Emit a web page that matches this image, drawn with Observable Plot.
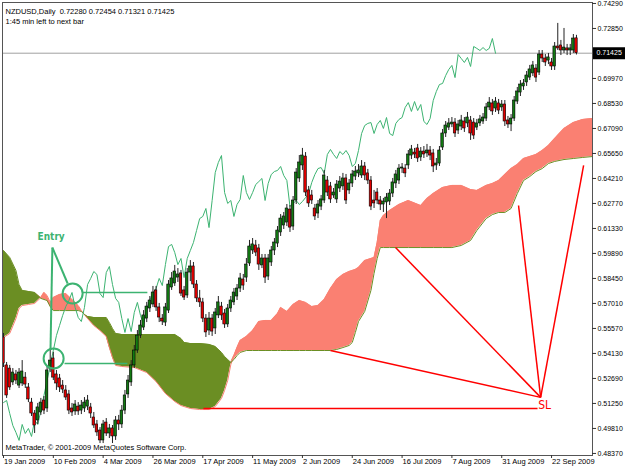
<!DOCTYPE html>
<html><head><meta charset="utf-8">
<script src="https://cdn.jsdelivr.net/npm/d3@7"></script>
<script src="https://cdn.jsdelivr.net/npm/@observablehq/plot@0.6"></script>
<style>body{margin:0;background:#fff}</style>
</head><body><div id="chart"></div>
<script>
// Daily NZDUSD bars, 19 Jan 2009 .. 2 Oct 2009 (bar index = trading day)
const open = [
.5505,.5344,.5326,.5246,.5292,.5228,.5240,.5274,.5217,.5130,
.5067,.5027,.5073,.5142,.5096,.5326,.5384,.5292,.5269,.5228,
.5200,.5177,.5096,.5079,.5107,.5084,.5096,.5107,.5102,.5044,
.5004,.4969,.4912,.5015,.4952,.4981,.4935,.5027,.5004,.5084,
.5177,.5246,.5344,.5430,.5516,.5562,.5614,.5672,.5695,.5776,
.5678,.5614,.5591,.5660,.5793,.5816,.5850,.5874,.5776,.5747,
.5879,.5914,.5810,.5730,.5707,.5614,.5545,.5614,.5557,.5632,
.5683,.5643,.5580,.5672,.5707,.5741,.5787,.5839,.5850,.5931,
.6006,.6035,.6018,.5920,.5960,.5856,.5937,.6006,.6046,.6110,
.6150,.6167,.6242,.6144,.6294,.6421,.6496,.6547,.6352,.6323,
.6248,.6219,.6259,.6294,.6409,.6375,.6323,.6300,.6363,.6375,
.6421,.6352,.6392,.6432,.6450,.6438,.6490,.6450,.6409,.6294,
.6340,.6294,.6271,.6283,.6288,.6334,.6392,.6409,.6478,.6478,
.6496,.6553,.6570,.6594,.6542,.6576,.6565,.6582,.6565,.6496,
.6507,.6599,.6680,.6714,.6732,.6743,.6697,.6720,.6749,.6738,
.6755,.6743,.6714,.6738,.6749,.6766,.6830,.6853,.6824,.6853,
.6830,.6847,.6755,.6732,.6766,.6864,.6916,.6951,.6974,.7002,
.7026,.7054,.7031,.7135,.7112,.7100,.7089,.7066,.7181,.7187,
.7158,.7170,.7158,.7158,.72280];
const high = [
.5528,.5361,.5344,.5326,.5315,.5326,.5372,.5303,.5240,.5154,
.5084,.5125,.5154,.5165,.5338,.5442,.5419,.5315,.5292,.5257,
.5228,.5200,.5125,.5142,.5130,.5142,.5159,.5171,.5125,.5073,
.5027,.4986,.5027,.5038,.5004,.4998,.5050,.5056,.5113,.5200,
.5286,.5372,.5459,.5545,.5603,.5660,.5707,.5741,.5799,.5799,
.5701,.5637,.5701,.5833,.5879,.5920,.5902,.5891,.5799,.5902,
.5948,.5937,.5833,.5776,.5730,.5637,.5649,.5637,.5672,.5741,
.5707,.5666,.5695,.5741,.5787,.5810,.5874,.5868,.5960,.6064,
.6075,.6064,.6041,.5983,.5983,.5983,.6029,.6075,.6144,.6213,
.6225,.6271,.6265,.6317,.6478,.6553,.6594,.6570,.6375,.6352,
.6271,.6294,.6323,.6467,.6432,.6398,.6363,.6409,.6432,.6450,
.6444,.6415,.6467,.6490,.6501,.6524,.6513,.6473,.6432,.6352,
.6363,.6317,.6306,.6334,.6357,.6421,.6467,.6501,.6507,.6501,
.6582,.6611,.6594,.6617,.6599,.6605,.6617,.6605,.6588,.6536,
.6605,.6703,.6749,.6766,.6772,.6766,.6755,.6784,.6772,.6801,
.6778,.6766,.6761,.6784,.6795,.6853,.6887,.6876,.6887,.6876,
.6870,.6870,.6778,.6789,.6893,.6945,.6985,.6991,.7037,.7072,
.7095,.7077,.7158,.7158,.7135,.7141,.7112,.7204,.7314,.7216,
.7285,.7193,.7193,.7250,.72454];
const low = [
.5332,.5154,.5200,.5228,.5234,.5211,.5223,.5211,.5130,.5050,
.4952,.5004,.5056,.5061,.5073,.5303,.5257,.5200,.5188,.5182,
.5142,.5061,.5050,.5056,.5056,.5061,.5073,.5084,.5038,.4981,
.4935,.4894,.4894,.4935,.4923,.4894,.4912,.4969,.4981,.5061,
.5154,.5223,.5326,.5413,.5499,.5545,.5591,.5649,.5678,.5655,
.5591,.5574,.5568,.5643,.5776,.5799,.5822,.5741,.5718,.5730,
.5827,.5787,.5707,.5678,.5591,.5505,.5516,.5511,.5522,.5614,
.5603,.5557,.5562,.5649,.5689,.5718,.5764,.5776,.5822,.5914,
.5983,.5971,.5891,.5902,.5816,.5833,.5914,.5977,.6023,.6087,
.6127,.6144,.6110,.6121,.6271,.6398,.6467,.6317,.6254,.6271,
.6179,.6190,.6236,.6277,.6317,.6277,.6306,.6277,.6340,.6352,
.6271,.6329,.6369,.6409,.6426,.6421,.6409,.6386,.6236,.6248,
.6271,.6236,.6225,.6190,.6265,.6311,.6363,.6386,.6450,.6426,
.6473,.6530,.6536,.6513,.6519,.6536,.6542,.6524,.6455,.6467,
.6490,.6582,.6657,.6697,.6714,.6657,.6674,.6697,.6686,.6714,
.6640,.6645,.6697,.6720,.6732,.6749,.6812,.6784,.6801,.6789,
.6807,.6720,.6709,.6691,.6749,.6847,.6893,.6928,.6951,.6985,
.7008,.6974,.7014,.7089,.7066,.7077,.7043,.7043,.7158,.7129,
.7141,.7129,.7129,.7141,.71321];
const close = [
.5355,.5171,.5217,.5303,.5257,.5303,.5309,.5234,.5148,.5067,
.4998,.5102,.5130,.5084,.5315,.5372,.5274,.5240,.5217,.5205,
.5159,.5084,.5073,.5119,.5079,.5113,.5130,.5142,.5067,.4998,
.4958,.4912,.5004,.4952,.4981,.4935,.5027,.5004,.5084,.5171,
.5257,.5344,.5430,.5516,.5574,.5632,.5683,.5718,.5764,.5678,
.5620,.5597,.5678,.5810,.5845,.5885,.5868,.5758,.5735,.5879,
.5914,.5810,.5730,.5707,.5614,.5534,.5614,.5539,.5649,.5707,
.5632,.5580,.5672,.5718,.5764,.5787,.5845,.5804,.5925,.6029,
.6041,.5994,.5925,.5960,.5850,.5960,.6006,.6052,.6121,.6190,
.6202,.6248,.6138,.6294,.6455,.6513,.6553,.6340,.6277,.6294,
.6202,.6271,.6300,.6438,.6340,.6300,.6340,.6386,.6403,.6421,
.6294,.6392,.6444,.6461,.6467,.6490,.6438,.6409,.6259,.6277,
.6294,.6271,.6288,.6311,.6334,.6398,.6444,.6478,.6484,.6450,
.6559,.6588,.6559,.6536,.6576,.6559,.6582,.6553,.6490,.6507,
.6582,.6680,.6726,.6738,.6743,.6680,.6732,.6755,.6709,.6772,
.6680,.6668,.6738,.6761,.6772,.6830,.6858,.6807,.6864,.6812,
.6847,.6749,.6732,.6766,.6870,.6922,.6962,.6968,.7014,.7049,
.7072,.7002,.7135,.7112,.7089,.7118,.7066,.7181,.7170,.7158,
.7175,.7158,.7170,.7227,.71425];

// Ichimoku cloud (Senkou Span A / B), read at these bar positions
const cloudIdx = [0,2,4,5,6,8,10,12,13,14,15,16,18,20,22,24,25,26,27,29,31,33,34,35,36,38,42,46,49,52,55,57,58,60,63,66,68,70,71,72,73,74,75,76,78,80,82,84,86,88,89,91,93,95,97,99,101,103,105,107,109,111,112,113,114,116,118,119,120,121,122,124,127,130,134,136,138,141,144,147,150,152,155,157,159,161,163,165,167,169,171,173,175,177,180,183,186,189,190];
const spanA = [.5505,.5528,.5614,.5672,.5689,.5695,.5701,.5735,.5764,.5747,.5707,.5735,.5753,.5758,.5724,.5689,.5660,.5637,.5614,.5574,.5545,.5511,.5447,.5390,.5344,.5338,.5332,.5303,.5251,.5182,.5136,.5113,.5107,.5096,.5090,.5090,.5107,.5154,.5200,.5257,.5349,.5401,.5447,.5488,.5511,.5545,.5597,.5603,.5603,.5643,.5678,.5655,.5695,.5718,.5707,.5683,.5689,.5724,.5787,.5839,.5868,.5885,.5891,.5897,.5908,.5948,.5960,.5966,.6052,.6179,.6208,.6236,.6271,.6294,.6265,.6306,.6334,.6369,.6381,.6381,.6357,.6352,.6381,.6392,.6409,.6444,.6478,.6501,.6536,.6547,.6559,.6582,.6611,.6651,.6709,.6743,.6761,.6766,.6766];
const spanB = [.6006,.5966,.5891,.5810,.5776,.5770,.5764,.5730,.5724,.5718,.5683,.5660,.5660,.5660,.5660,.5660,.5655,.5637,.5626,.5620,.5620,.5620,.5591,.5557,.5528,.5522,.5522,.5522,.5522,.5522,.5522,.5499,.5476,.5470,.5470,.5465,.5453,.5419,.5395,.5378,.5361,.5378,.5401,.5419,.5430,.5430,.5430,.5430,.5430,.5430,.5430,.5430,.5430,.5430,.5430,.5430,.5430,.5430,.5430,.5436,.5447,.5459,.5476,.5534,.5597,.5655,.5776,.5874,.5960,.6023,.6023,.6023,.6023,.6023,.6023,.6023,.6023,.6023,.6023,.6035,.6064,.6121,.6190,.6213,.6225,.6225,.6248,.6334,.6409,.6432,.6461,.6478,.6507,.6519,.6530,.6536,.6542,.6547,.6547];

const dateTicks = [0,16,32,48,64,80,96,112,128,144,160,176];
const dateLabels = ["19 Jan 2009","10 Feb 2009","4 Mar 2009","26 Mar 2009","17 Apr 2009","11 May 2009","2 Jun 2009","24 Jun 2009","16 Jul 2009","7 Aug 2009","31 Aug 2009","22 Sep 2009"];
const priceTicks = [0.48370,0.49810,0.51250,0.52690,0.54130,0.55570,0.57010,0.58450,0.59890,0.61330,0.62770,0.64210,0.65650,0.67090,0.68530,0.69970,0.72850,0.74290];
const lastPrice = 0.71425;
const headerLines = ["NZDUSD,Daily  0.72280 0.72454 0.71321 0.71425", "1:45 min left to next bar"];
const copyright = "MetaTrader, \u00A9 2001-2009 MetaQuotes Software Corp.";

// Annotations (bar index, price)
const entryLabel = {i: 15.3, p: 0.6087, text: "Entry"};
const entryApex = {i: 15.7, p: 0.6023};
const entryTargets = [{i: 20.6, p: 0.5816}, {i: 15.1, p: 0.5442}];
const entryCircles = [{i: 22.2, p: 0.5758}, {i: 16.1, p: 0.5384}];
const entryLevels = [{i1: 25.4, i2: 46.2, p: 0.5764}, {i1: 19.6, i2: 39.8, p: 0.5355}];
const slApex = {i: 172.5, p: 0.5160};
const slTargets = [{i: 105.0, p: 0.5430}, {i: 125.9, p: 0.6023}, {i: 165.4, p: 0.6265}, {i: 186.3, p: 0.6496}];
const slLevel = {i1: 64.2, i2: 171.5, p: 0.5096};
const slLabel = {i: 173.8, p: 0.5113, text: "SL"};

const bars = open.map((o, i) => ({i, o, h: high[i], l: low[i], c: close[i]}));
const chikou = bars.map(d => ({i: d.i - 26, c: d.c}));
const cloud = cloudIdx.map((i, k) => ({i, a: spanA[k], b: spanB[k], top: Math.max(spanA[k], spanB[k])}));

const xMin = -0.32, xMax = 189.15;
const yMin = 0.48252, yMax = 0.74345;
const green = "#3cb371";
const smallFont = "Tahoma, 'DejaVu Sans Condensed', 'Liberation Sans', sans-serif";

const chart = Plot.plot({
  width: 625, height: 469,
  marginTop: 2, marginBottom: 14, marginLeft: 2, marginRight: 33,
  style: {fontFamily: "'Liberation Sans', Arial, sans-serif", fontSize: "7.5px", background: "#fff", color: "#000"},
  x: {domain: [xMin, xMax], axis: null},
  y: {domain: [yMin, yMax], axis: null},
  marks: [
    Plot.areaY(cloud, {x: "i", y1: "a", y2: "top", fill: "#6b8e23", clip: true}),
    Plot.areaY(cloud, {x: "i", y1: "b", y2: "top", fill: "#fa8072", clip: true}),
    Plot.line(cloud, {x: "i", y: "a", stroke: "#fa8072", strokeWidth: 1, clip: true}),
    Plot.line(cloud, {x: "i", y: "b", stroke: "#6b8e23", strokeWidth: 1, clip: true}),
    Plot.ruleY([lastPrice], {stroke: "#a0a0a0", strokeWidth: 1}),
    Plot.line(chikou, {x: "i", y: "c", stroke: green, strokeWidth: 1, clip: true}),
    Plot.ruleX(bars, {x: "i", y1: "l", y2: "h", stroke: "#222", strokeWidth: 1, clip: true}),
    Plot.rect(bars, {x1: d => d.i - 0.4, x2: d => d.i + 0.4, y1: "o", y2: "c",
      fill: d => d.c >= d.o ? "#127a12" : "#e00000", stroke: "#000", strokeWidth: 0.6, clip: true}),
    // Entry annotation
    Plot.link(entryTargets, {x1: () => entryApex.i, y1: () => entryApex.p, x2: "i", y2: "p", stroke: green, strokeWidth: 2}),
    Plot.dot(entryCircles, {x: "i", y: "p", r: 10, stroke: green, strokeWidth: 2, fill: "none"}),
    Plot.link(entryLevels, {x1: "i1", x2: "i2", y1: "p", y2: "p", stroke: green, strokeWidth: 1.5}),
    Plot.text([entryLabel], {x: "i", y: "p", text: "text", fill: green, fontSize: 10, fontWeight: "bold",
      fontFamily: "'DejaVu Sans Condensed', 'DejaVu Sans', sans-serif"}),
    // SL annotation
    Plot.link(slTargets, {x1: () => slApex.i, y1: () => slApex.p, x2: "i", y2: "p", stroke: "#ff0000", strokeWidth: 1.5}),
    Plot.link([slLevel], {x1: "i1", x2: "i2", y1: "p", y2: "p", stroke: "#ff0000", strokeWidth: 1.5}),
    Plot.text([slLabel], {x: "i", y: "p", text: "text", fill: "#ff0000", fontSize: 12,
      fontFamily: "'DejaVu Sans Condensed', 'DejaVu Sans', sans-serif"}),
    Plot.frame({stroke: "#555"}),
    // price axis (right)
    Plot.ruleY(priceTicks, {x1: xMax, x2: xMax + 1.3, stroke: "#333"}),
    Plot.text(priceTicks, {y: d => d, text: d => d.toFixed(5), frameAnchor: "right", dx: 5, textAnchor: "start", fill: "#000", fontSize: 7}),
    Plot.ruleY([lastPrice], {x1: xMax + 0.3, x2: xMax + 10.6, stroke: "#000", strokeWidth: 12}),
    Plot.text([lastPrice], {y: d => d, text: d => d.toFixed(5), frameAnchor: "right", dx: 4, textAnchor: "start", fill: "#fff", fontSize: 7}),
    // date axis (bottom)
    Plot.ruleX(dateTicks, {x: d => d, y1: yMin, y2: 0.4808, stroke: "#333"}),
    Plot.text(dateTicks, {x: d => d, text: (d, k) => dateLabels[k], frameAnchor: "bottom", dy: 8, dx: 0.5, textAnchor: "start", fill: "#000"}),
    // header and footer
    Plot.text([headerLines[0]], {text: d => d, frameAnchor: "top-left", dx: 3, dy: 6, textAnchor: "start", fill: "#000"}),
    Plot.text([headerLines[1]], {text: d => d, frameAnchor: "top-left", dx: 3, dy: 16, textAnchor: "start", fill: "#000"}),
    Plot.text([copyright], {text: d => d, frameAnchor: "bottom-left", dx: 3, dy: -6, textAnchor: "start", fill: "#000"})
  ]
});
document.getElementById("chart").appendChild(chart);
</script>
</body></html>
